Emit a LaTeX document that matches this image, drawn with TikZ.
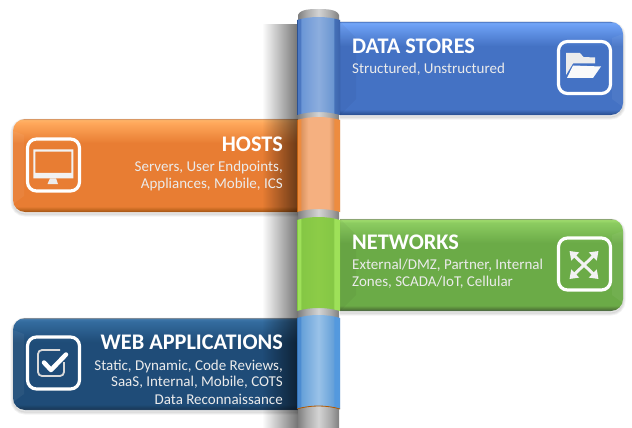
\documentclass[tikz,border=0pt]{standalone}
\usepackage{fontspec}
\setmainfont{Carlito}
\usetikzlibrary{fadings,arrows.meta}
\pgfdeclareverticalshading{bblue}{100bp}{rgb(0bp)=(0.16,0.30,0.55);rgb(25bp)=(0.16,0.30,0.55);rgb(26.2bp)=(0.20,0.36,0.64);rgb(28bp)=(0.267,0.447,0.769);rgb(62bp)=(0.267,0.447,0.769);rgb(73bp)=(0.42,0.62,0.95);rgb(74.4bp)=(0.45,0.65,0.97);rgb(75bp)=(0.33,0.5,0.8);rgb(100bp)=(0.33,0.5,0.8)}
\pgfdeclareverticalshading{borange}{100bp}{rgb(0bp)=(0.62,0.32,0.08);rgb(25bp)=(0.62,0.32,0.08);rgb(26.2bp)=(0.75,0.40,0.12);rgb(28bp)=(0.91,0.49,0.2);rgb(62bp)=(0.91,0.49,0.2);rgb(73bp)=(1,0.66,0.36);rgb(74.4bp)=(1,0.70,0.40);rgb(75bp)=(0.85,0.6,0.4);rgb(100bp)=(0.85,0.6,0.4)}
\pgfdeclareverticalshading{bgreen}{100bp}{rgb(0bp)=(0.30,0.38,0.30);rgb(25bp)=(0.30,0.38,0.30);rgb(26.2bp)=(0.33,0.50,0.22);rgb(28bp)=(0.42,0.67,0.28);rgb(62bp)=(0.42,0.67,0.28);rgb(73bp)=(0.55,0.80,0.38);rgb(74.4bp)=(0.62,0.86,0.42);rgb(75bp)=(0.55,0.65,0.45);rgb(100bp)=(0.55,0.65,0.45)}
\pgfdeclareverticalshading{bnavy}{100bp}{rgb(0bp)=(0.15,0.25,0.36);rgb(25bp)=(0.15,0.25,0.36);rgb(26.2bp)=(0.10,0.24,0.38);rgb(28bp)=(0.12,0.30,0.47);rgb(62bp)=(0.12,0.30,0.47);rgb(73bp)=(0.20,0.42,0.62);rgb(74.4bp)=(0.24,0.46,0.66);rgb(75bp)=(0.5,0.55,0.6);rgb(100bp)=(0.5,0.55,0.6)}
\pgfdeclarehorizontalshading{sblue}{100bp}{rgb(0bp)=(0.17,0.32,0.58);rgb(25bp)=(0.17,0.32,0.58);rgb(26bp)=(0.30,0.47,0.76);rgb(29bp)=(0.30,0.47,0.76);rgb(30bp)=(0.42,0.59,0.84);rgb(50bp)=(0.55,0.68,0.87);rgb(67bp)=(0.42,0.59,0.82);rgb(68.5bp)=(0.27,0.44,0.72);rgb(74bp)=(0.24,0.40,0.68);rgb(75bp)=(0.17,0.32,0.58);rgb(100bp)=(0.17,0.32,0.58)}
\pgfdeclarehorizontalshading{sorange}{100bp}{rgb(0bp)=(0.75,0.38,0.08);rgb(25bp)=(0.75,0.38,0.08);rgb(26bp)=(0.93,0.55,0.25);rgb(29bp)=(0.93,0.55,0.25);rgb(30bp)=(0.86,0.58,0.38);rgb(38bp)=(0.96,0.69,0.50);rgb(62bp)=(0.96,0.69,0.50);rgb(67bp)=(0.86,0.58,0.38);rgb(68.5bp)=(0.93,0.55,0.25);rgb(74bp)=(0.93,0.55,0.25);rgb(75bp)=(0.75,0.38,0.08);rgb(100bp)=(0.75,0.38,0.08)}
\pgfdeclarehorizontalshading{sgreen}{100bp}{rgb(0bp)=(0.50,0.78,0.25);rgb(25bp)=(0.50,0.78,0.25);rgb(26bp)=(0.62,0.88,0.35);rgb(29bp)=(0.62,0.88,0.35);rgb(30bp)=(0.52,0.78,0.27);rgb(50bp)=(0.55,0.80,0.28);rgb(67bp)=(0.52,0.78,0.27);rgb(68.5bp)=(0.62,0.88,0.35);rgb(74bp)=(0.62,0.88,0.35);rgb(75bp)=(0.50,0.78,0.25);rgb(100bp)=(0.50,0.78,0.25)}
\pgfdeclarehorizontalshading{snavy}{100bp}{rgb(0bp)=(0.20,0.45,0.72);rgb(25bp)=(0.20,0.45,0.72);rgb(26bp)=(0.30,0.55,0.82);rgb(29bp)=(0.30,0.55,0.82);rgb(30bp)=(0.40,0.63,0.85);rgb(50bp)=(0.60,0.76,0.91);rgb(67bp)=(0.40,0.63,0.85);rgb(68.5bp)=(0.33,0.60,0.87);rgb(74bp)=(0.33,0.60,0.87);rgb(75bp)=(0.20,0.45,0.72);rgb(100bp)=(0.20,0.45,0.72)}
\pgfdeclarehorizontalshading{spole}{100bp}{rgb(0bp)=(0.50,0.50,0.50);rgb(25bp)=(0.50,0.50,0.50);rgb(35bp)=(0.66,0.66,0.66);rgb(50bp)=(0.83,0.83,0.83);rgb(65bp)=(0.66,0.66,0.66);rgb(75bp)=(0.50,0.50,0.50);rgb(100bp)=(0.50,0.50,0.50)}
\tikzset{
 x=1pt,y=-1pt,
 titletext/.style={font=\fontsize{22.3}{22}\selectfont\bfseries,text=white,inner sep=0pt},
 subtext/.style={font=\fontsize{15}{15}\selectfont,text=white!92!black,inner sep=0pt},
 iconbox/.style={draw=white,line width=3.2pt,rounded corners=9pt,minimum width=52pt,minimum height=52pt,inner sep=0pt},
 ddrop/.style={draw=black,line width=#1,opacity=0.05},
 facet/.style={fill=black,opacity=0.035},
 light/.style={fill=white,opacity=0.05},
 iconwhite/.style={fill=white!95!gray},
 netarrow/.style={white!90!gray,line width=3pt,{Triangle[length=8pt,width=11pt]}-{Triangle[length=8pt,width=11pt]}},
}
\newcommand{\bannerright}[3]{% y0 y1 shading
 \foreach \w in {1pt,3pt,5pt}{\draw[ddrop=\w] (340,#1+2) [rounded corners=12pt] -- (623,#1+2) -- (623,#2+2) [sharp corners] -- (340,#2+2);}
 \path[shading=#3] (340,#1) [rounded corners=12pt] -- (623,#1) -- (623,#2) [sharp corners] -- (340,#2) -- cycle;
 \fill[facet] (340,#1) -- (356,#1+16) -- (356,#2-16) -- (340,#2) -- cycle;
 \fill[light] (623,#1+12) -- (612,#1+16) -- (612,#2-16) -- (623,#2-8) -- cycle;
}
\newcommand{\bannerleft}[3]{%
 \foreach \w in {1pt,3pt,5pt}{\draw[ddrop=\w] (298,#1+2) [rounded corners=12pt] -- (13,#1+2) -- (13,#2+2) [sharp corners] -- (298,#2+2);}
 \path[shading=#3] (298,#1) [rounded corners=12pt] -- (13,#1) -- (13,#2) [sharp corners] -- (298,#2) -- cycle;
 \fill[light] (13,#1+12) -- (24,#1+16) -- (24,#2-16) -- (13,#2-8) -- cycle;
}
\newcommand{\sleeve}[3]{%
 \path[shading=#3] (297,#1) .. controls (310,#1-4) and (327,#1-4) .. (340,#1) -- (340,#2) .. controls (327,#2-4) and (310,#2-4) .. (297,#2) -- cycle;
}
\begin{document}
\begin{tikzpicture}
\useasboundingbox (0,0) rectangle (632,428);
\fill[white] (0,0) rectangle (632,428);
% banners under the shadow
\bannerright{22}{115}{bblue}
\bannerleft{119}{212}{borange}
\bannerright{219}{311}{bgreen}
\bannerleft{318}{410}{bnavy}
% pole shadow
\fill[black,opacity=0.55,path fading=west] (262,24) rectangle (298,428);
% pole
\path[shading=spole] (298,428) -- (298,15) .. controls (300,9) and (312,9) .. (318,9) .. controls (325,9) and (337,9) .. (339,15) -- (339,428) -- cycle;
% sleeves
\sleeve{20}{115}{sblue}
\sleeve{120}{212}{sorange}
\sleeve{220}{311}{sgreen}
\sleeve{318}{409}{snavy}
\draw[orange!70!black,line width=.8pt] (297,409) .. controls (310,405) and (327,405) .. (340,409);
% texts
\node[titletext,anchor=base west] (ds) at (352,54) {DATA STORES};
\node[subtext,anchor=base west] (dsa) at (352,74) {Structured, Unstructured};
\node[titletext,anchor=base east] (ho) at (283,151.5) {HOSTS};
\node[subtext,anchor=base east] (hoa) at (283,171) {Servers, User Endpoints,};
\node[subtext,anchor=base east] (hob) at (283,188) {Appliances, Mobile, ICS};
\node[titletext,anchor=base west] (ne) at (352,249) {NETWORKS};
\node[subtext,anchor=base west] (nea) at (352,269.5) {External/DMZ, Partner, Internal};
\node[subtext,anchor=base west] (neb) at (352,286) {Zones, SCADA/IoT, Cellular};
\node[titletext,anchor=base east] (we) at (283,349) {WEB APPLICATIONS};
\node[subtext,anchor=base east] (wea) at (283,370) {Static, Dynamic, Code Reviews,};
\node[subtext,anchor=base east] (web) at (283,386) {SaaS, Internal, Mobile, COTS};
\node[subtext,anchor=base east] (wec) at (283,404.5) {Data Reconnaissance};
% icons
\node[iconbox] (i1) at (584.5,67.5) {};
\node[iconbox] (i2) at (53.5,165) {};
\node[iconbox] (i3) at (584.5,264) {};
\node[iconbox] (i4) at (53.5,363) {};
% folder
\fill[white!85!gray] (566,53) -- (580,53) -- (583.5,57) -- (595,57.5) -- (595,63.5) -- (573,63.5) -- (566,75) -- cycle;
\fill[iconwhite] (573,65.5) -- (601,66.5) -- (593,78) -- (567,78) -- cycle;
% monitor
\fill[white!90!gray,even odd rule] (33.3,149.3) rectangle (73.3,178.3) (35.3,151.7) rectangle (71.3,172.8);
\fill[white!85!gray] (50,178.3) -- (56,178.3) -- (58,184) -- (47.5,184) -- cycle;
% networks arrows
\draw[netarrow] (569.5,251) -- (598.5,279);
\draw[netarrow] (598.5,251) -- (569.5,279);
% check
\draw[white!70!gray,line width=1.8pt,rounded corners=4pt] (60,350) -- (38,350) -- (38,376) -- (64,376) -- (64,362);
\draw[white,line width=4.5pt,line join=round,line cap=round] (44,362.5) -- (51,370) -- (66,354.5);
\end{tikzpicture}
\end{document}
